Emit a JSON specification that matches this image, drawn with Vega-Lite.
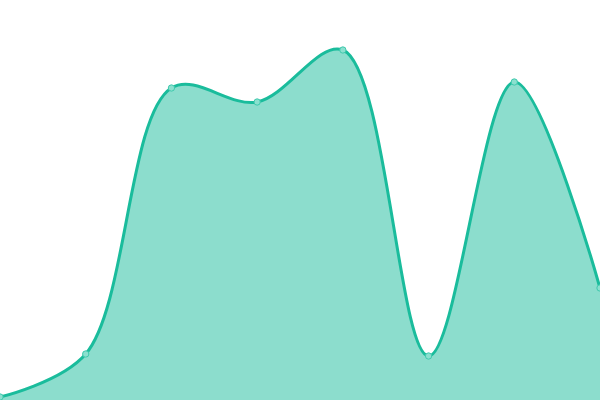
{
  "$schema": "https://vega.github.io/schema/vega-lite/v6.json",
  "width": 600,
  "height": 400,
  "autosize": "none",
  "padding": 0,
  "background": "white",
  "config": {"view": {"stroke": null}},
  "data": {"values": [
    {"i": 0, "v": 3},
    {"i": 1, "v": 46},
    {"i": 2, "v": 312},
    {"i": 3, "v": 298},
    {"i": 4, "v": 350},
    {"i": 5, "v": 44},
    {"i": 6, "v": 318},
    {"i": 7, "v": 112}
  ]},
  "encoding": {
    "x": {"field": "i", "type": "quantitative", "scale": {"domain": [0, 7], "nice": false, "zero": false}, "axis": null},
    "y": {"field": "v", "type": "quantitative", "scale": {"domain": [0, 400], "nice": false}, "axis": null}
  },
  "layer": [
    {"mark": {"type": "area", "interpolate": "catmull-rom", "color": "#1abc9c", "opacity": 0.5, "clip": true}},
    {"mark": {"type": "line", "interpolate": "catmull-rom", "color": "#1abc9c", "strokeWidth": 3, "clip": true}},
    {"mark": {"type": "point", "filled": true, "shape": "circle", "size": 40, "fill": "#8be0cf", "stroke": "#3fc9ad", "strokeWidth": 1, "opacity": 1, "clip": true}}
  ]
}
